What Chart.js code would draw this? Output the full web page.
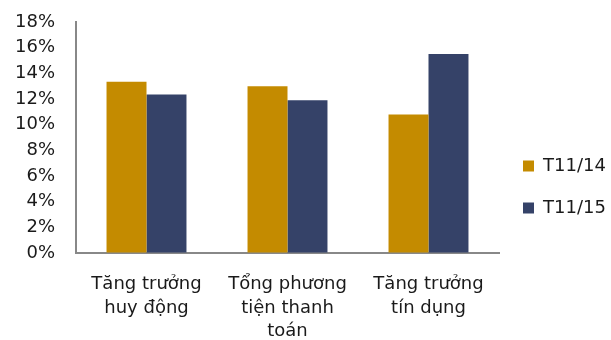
<!DOCTYPE html>
<html>
<head>
<meta charset="utf-8">
<script src="https://cdn.jsdelivr.net/npm/chart.js@4"></script>
<style>
  html, body { margin: 0; padding: 0; background: #fff; }
  #wrap { width: 611px; height: 340px; }
</style>
</head>
<body>
<div id="wrap"><canvas id="grafico"></canvas></div>
<script>
// --- DATOS ---
const categorias = [
  ["Tăng trưởng", "huy động"],
  ["Tổng phương", "tiện thanh", "toán"],
  ["Tăng trưởng", "tín dụng"]
];
const serieNombres = ["T11/14", "T11/15"];
const valoresT1114 = [13.35, 13.0, 10.8];
const valoresT1115 = [12.35, 11.9, 15.5];
const ticksY = [0, 2, 4, 6, 8, 10, 12, 14, 16, 18];

const fuente = "'DejaVu Sans', Verdana, sans-serif";
Chart.defaults.font.family = fuente;
Chart.defaults.color = "#1a1a1a";

const ctx = document.getElementById("grafico").getContext("2d");
new Chart(ctx, {
  type: "bar",
  data: {
    labels: categorias,
    datasets: [
      { label: serieNombres[0], data: valoresT1114, backgroundColor: "#C48B00" },
      { label: serieNombres[1], data: valoresT1115, backgroundColor: "#354268" }
    ]
  },
  options: {
    responsive: true,
    maintainAspectRatio: false,
    animation: false,
    layout: { padding: { top: 22, right: 0, left: 0, bottom: 0 } },
    datasets: { bar: { categoryPercentage: 0.567, barPercentage: 1, borderWidth: 0 } },
    plugins: {
      tooltip: { enabled: false },
      legend: {
        position: "right",
        maxWidth: 112,
        title: { display: true, text: " ", font: { size: 10 }, padding: 0 },
        labels: {
          boxWidth: 11,
          boxHeight: 11,
          padding: 24,
          font: { size: 18 },
          color: "#1a1a1a"
        }
      }
    },
    scales: {
      x: {
        grid: { display: false, drawTicks: false },
        border: { display: true, color: "#888", width: 2 },
        ticks: { font: { size: 18, lineHeight: 1.3 }, padding: 20, maxRotation: 0, autoSkip: false },
        afterFit: (scale) => { scale.height = 87; }
      },
      y: {
        min: 0,
        max: 18,
        grid: { display: true, drawOnChartArea: false, drawTicks: true, tickLength: 19, color: "rgba(0,0,0,0)" },
        border: { display: true, color: "#888", width: 2 },
        afterBuildTicks: (scale) => { scale.ticks = ticksY.map((v) => ({ value: v })); },
        ticks: { font: { size: 18 }, padding: 2, autoSkip: false, callback: (v) => v + "%" },
        afterFit: (scale) => { scale.width = 76; }
      }
    }
  }
});
</script>
</body>
</html>
